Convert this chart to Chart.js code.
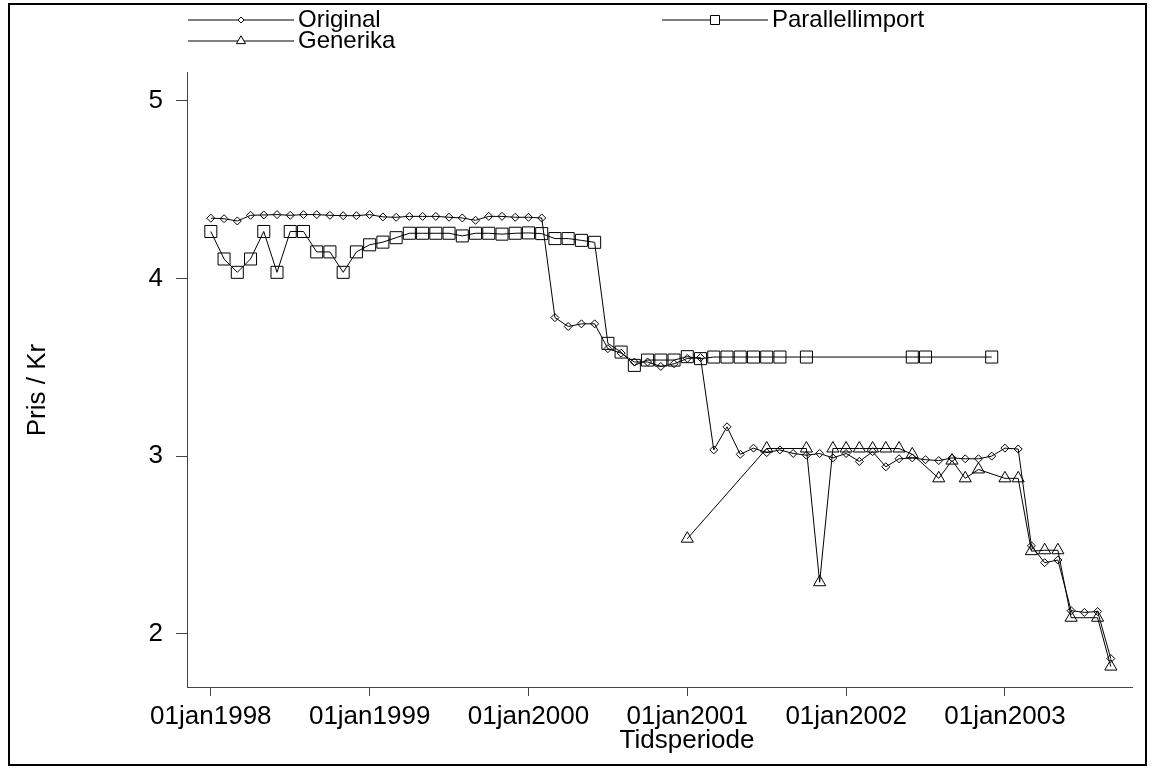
<!DOCTYPE html>
<html>
<head>
<meta charset="utf-8">
<title>Pris / Kr</title>
<script src="https://cdn.jsdelivr.net/npm/chart.js"></script>
<style>
  body { margin: 0; background: #fff; }
  canvas { display: block; }
</style>
</head>
<body>
<canvas id="priceChart" width="1153" height="771"></canvas>
<script>
// months from 01jan1998 (index 0) to sep2003 (index 68)
const monthIndex = Array.from({ length: 69 }, (_, i) => i);

// x axis ticks (month index) and their labels
const xTickValues = [0, 12, 24, 36, 48, 60];
const xTickLabels = ["01jan1998", "01jan1999", "01jan2000", "01jan2001", "01jan2002", "01jan2003"];
const yTickValues = [2, 3, 4, 5];

const xTitle = "Tidsperiode";
const yTitle = "Pris / Kr";

// prices, one value per month (null = no observation)
const originalPrices = [
  4.34, 4.337, 4.324, 4.356, 4.358, 4.36, 4.356, 4.36, 4.36, 4.356, 4.354, 4.354,
  4.36, 4.347, 4.345, 4.35, 4.35, 4.35, 4.345, 4.341, 4.328, 4.35, 4.35, 4.345,
  4.345, 4.341, 3.78, 3.73, 3.745, 3.745, 3.605, 3.58, 3.53, 3.53, 3.505, 3.52,
  3.55, 3.555, 3.035, 3.165, 3.01, 3.045, 3.02, 3.035, 3.015, 3.005, 3.015, 2.99,
  3.015, 2.97, 3.025, 2.94, 2.985, 2.99, 2.98, 2.975, 2.99, 2.985, 2.985, 3.0,
  3.045, 3.04, 2.495, 2.40, 2.415, 2.13, 2.12, 2.125, 1.86
];

const parallelPrices = [
  4.265, 4.11, 4.035, 4.11, 4.265, 4.035, 4.265, 4.265, 4.15, 4.15, 4.035, 4.15,
  4.19, 4.205, 4.23, 4.255, 4.255, 4.255, 4.255, 4.24, 4.255, 4.255, 4.25, 4.255,
  4.257, 4.253, 4.225, 4.225, 4.215, 4.204, 3.635, 3.586, 3.511, 3.541, 3.541, 3.541,
  3.56, 3.549, 3.558, 3.558, 3.558, 3.558, 3.558, 3.558, null, 3.558, null, null,
  null, null, null, null, null, 3.558, 3.558, null, null, null, null, 3.558,
  null, null, null, null, null, null, null, null, null
];

const genericPrices = [
  null, null, null, null, null, null, null, null, null, null, null, null,
  null, null, null, null, null, null, null, null, null, null, null, null,
  null, null, null, null, null, null, null, null, null, null, null, null,
  2.535, null, null, null, null, null, 3.043, null, null, 3.043, 2.29, 3.043,
  3.043, 3.043, 3.043, 3.043, 3.043, 3.01, null, 2.875, 2.975, 2.875, 2.925, null,
  2.875, 2.875, 2.465, 2.47, 2.47, 2.09, null, 2.09, 1.815
];

// turn a value list into {x, y} points on the month scale
function toPoints(values) {
  return monthIndex.map(i => ({ x: i, y: values[i] }));
}

function makeSeries(label, values, pointStyle, radius) {
  return {
    label: label,
    data: toPoints(values),
    borderColor: "#000",
    borderWidth: 1,
    pointStyle: pointStyle,
    pointRadius: radius,
    pointBorderColor: "#000",
    pointBorderWidth: 1,
    pointBackgroundColor: "rgba(0,0,0,0)",
    spanGaps: true,
    tension: 0
  };
}

const FONT = "'Liberation Sans', Arial, Helvetica, sans-serif";

// Stata style legend (line with marker in the middle, then label),
// axis titles and the outer frame
const stataDecor = {
  id: "stataDecor",
  afterDraw(chart) {
    const ctx = chart.ctx;
    const slots = [
      { x: 188, y: 20 },   // Original
      { x: 662, y: 20 },   // Parallellimport
      { x: 188, y: 41 }    // Generika
    ];
    const lineLen = 106;
    ctx.save();
    chart.data.datasets.forEach((ds, i) => {
      const s = slots[i];
      ctx.strokeStyle = "#000";
      ctx.lineWidth = 1;
      ctx.beginPath();
      ctx.moveTo(s.x, s.y);
      ctx.lineTo(s.x + lineLen, s.y);
      ctx.stroke();
      ctx.fillStyle = "#fff";
      Chart.helpers.drawPoint(ctx, {
        pointStyle: ds.pointStyle,
        radius: ds.pointRadius * 0.75,
        borderWidth: 1,
        rotation: 0
      }, s.x + lineLen / 2, s.y);
      ctx.fillStyle = "#000";
      ctx.font = "24px " + FONT;
      ctx.textBaseline = "middle";
      ctx.textAlign = "left";
      ctx.fillText(ds.label, s.x + lineLen + 4, s.y);
    });

    // axis titles
    ctx.font = "26px " + FONT;
    ctx.textAlign = "center";
    ctx.textBaseline = "middle";
    ctx.fillText(xTitle, 687, 741);
    ctx.translate(38, 390);
    ctx.rotate(-Math.PI / 2);
    ctx.fillText(yTitle, 0, 0);
    ctx.setTransform(1, 0, 0, 1, 0, 0);

    // outer frame
    ctx.strokeStyle = "#000";
    ctx.lineWidth = 2;
    ctx.strokeRect(9, 4, 1137, 761);
    ctx.restore();
  }
};

new Chart(document.getElementById("priceChart"), {
  type: "line",
  data: {
    datasets: [
      makeSeries("Original", originalPrices, "rectRot", 4),
      makeSeries("Parallellimport", parallelPrices, "rect", 8.5),
      makeSeries("Generika", genericPrices, "triangle", 7)
    ]
  },
  options: {
    responsive: false,
    animation: false,
    devicePixelRatio: 1,
    layout: { padding: { top: 72, right: 21, left: 0, bottom: 0 } },
    plugins: {
      legend: { display: false },
      tooltip: { enabled: false }
    },
    scales: {
      x: {
        type: "linear",
        min: -1.8,
        max: 69.6,
        afterBuildTicks: scale => { scale.ticks = xTickValues.map(v => ({ value: v })); },
        afterFit: scale => { scale.height = 84; },
        ticks: {
          color: "#000",
          font: { family: FONT, size: 26 },
          padding: 5,
          maxRotation: 0,
          callback: value => xTickLabels[xTickValues.indexOf(value)]
        },
        grid: { display: true, drawOnChartArea: false, drawTicks: true, tickLength: 9, color: "#444" },
        border: { display: true, color: "#444", width: 1 }
      },
      y: {
        min: 1.70,
        max: 5.163,
        afterBuildTicks: scale => { scale.ticks = yTickValues.map(v => ({ value: v })); },
        afterFit: scale => { scale.width = 187; },
        ticks: {
          color: "#000",
          font: { family: FONT, size: 26 },
          padding: 13
        },
        grid: { display: true, drawOnChartArea: false, drawTicks: true, tickLength: 11, color: "#444" },
        border: { display: true, color: "#444", width: 1 }
      }
    }
  },
  plugins: [stataDecor]
});
</script>
</body>
</html>
